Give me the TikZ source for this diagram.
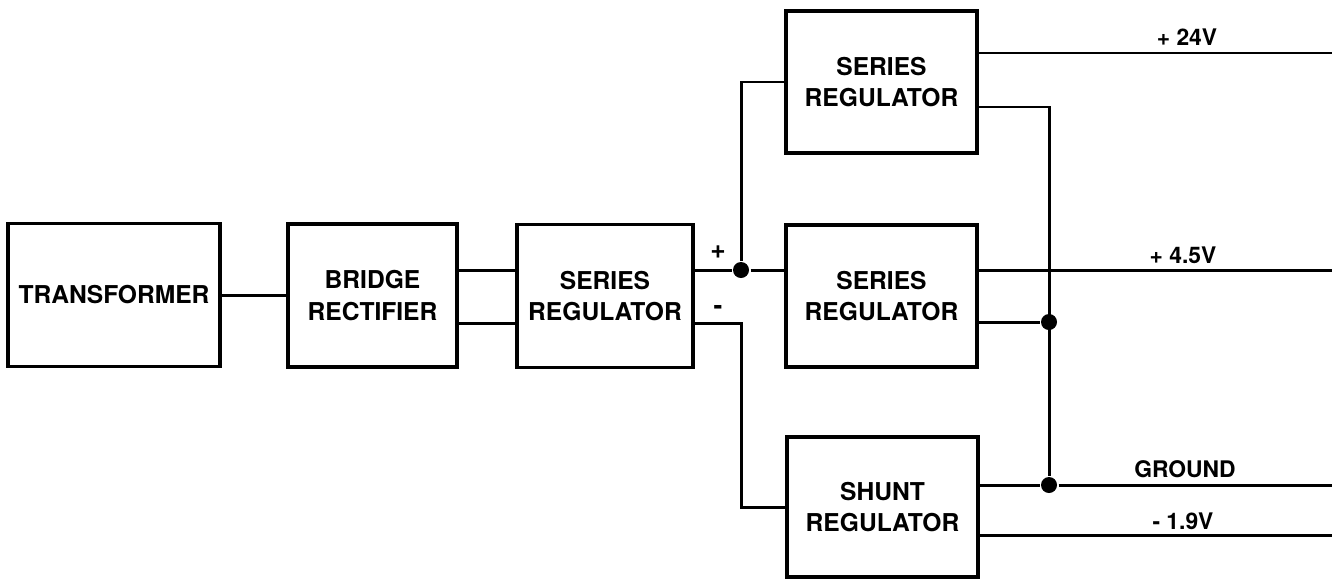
\documentclass[tikz,border=0pt]{standalone}
\usepackage{fontspec}
\setmainfont{TeX Gyre Heros}
\usepackage{tikz}
\usetikzlibrary{positioning, calc}

\begin{document}
\begin{tikzpicture}[
    x=0.02cm, y=-0.02cm, line width=1.7pt,
    block/.style={draw, line width=2.1pt, minimum height=2.86cm, inner sep=0pt, align=center, font=\fontsize{14}{18}\selectfont\bfseries},
    rail/.style={font=\fontsize{13}{15}\selectfont\bfseries},
    polarity/.style={font=\fontsize{15}{17}\selectfont\bfseries},
    junction/.style={circle, fill, inner sep=0pt, minimum size=0.32cm}
]
\useasboundingbox (0,0) rectangle (1339,579);

% Blocks
\node[block, minimum width=4.24cm] (trans) at (114,295) {TRANSFORMER};
\node[block, minimum width=3.38cm] (bridge) at (372.5,295.5) {BRIDGE\\RECTIFIER};
\node[block, minimum width=3.52cm] (sreg) at (605,296) {SERIES\\REGULATOR};
\node[block, minimum width=3.82cm, minimum height=2.84cm] (sregtop) at (881.5,82) {SERIES\\REGULATOR};
\node[block, minimum width=3.82cm, minimum height=2.84cm] (sregmid) at (881.5,296) {SERIES\\REGULATOR};
\node[block, minimum width=3.82cm, minimum height=2.80cm] (shunt) at (882.5,507) {SHUNT\\REGULATOR};

% Junctions
\node[junction] (jplus) at (741,270) {};
\node[junction] (jmid) at (1049,322) {};
\node[junction] (jgnd) at (1049,485) {};
\coordinate (jminus) at (741,323);
\coordinate (jtop) at (1049,107);

% Output ends
\coordinate (o24) at (1332,53);
\coordinate (o45) at (1332,270);
\coordinate (ognd) at (1332,485);
\coordinate (o19) at (1332,535);

% Input chain
\draw (trans.east) -- (trans.east -| bridge.west);
\draw (bridge.east |- jplus) -- (sreg.west |- jplus);
\draw (bridge.east |- jminus) -- (sreg.west |- jminus);

% Distribution
\draw (sreg.east |- jplus) -- (jplus) -- (sregmid.west |- jplus);
\draw (jplus) |- (sregtop.west);
\draw (sreg.east |- jminus) -- (jminus) |- (shunt.west);
\node[polarity] (plus) at (718,252) {+};
\node[polarity] (minus) at (718,310) {-};

% Return rail
\draw (sregtop.east |- jtop) -- (jtop) -- (jgnd);
\draw (sregmid.east |- jmid) -- (jmid);

% Outputs
\draw (sregtop.east |- o24) -- (o24);
\draw (sregmid.east |- o45) -- (o45);
\draw (shunt.east |- ognd) -- (jgnd) -- (ognd);
\draw (shunt.east |- o19) -- (o19);
\node[rail] (l24) at (1187,37) {+ 24V};
\node[rail] (l45) at (1183,255) {+ 4.5V};
\node[rail] (lgnd) at (1185,469) {GROUND};
\node[rail] (l19) at (1183,521) {- 1.9V};

\end{tikzpicture}
\end{document}
